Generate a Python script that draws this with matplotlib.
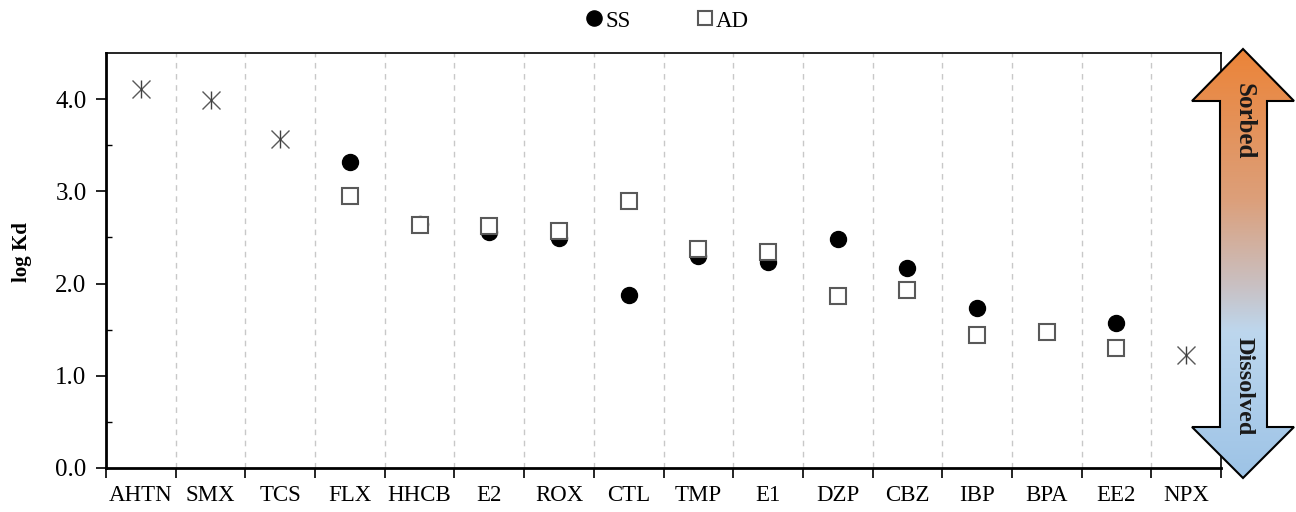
import numpy as np
import matplotlib.pyplot as plt
from matplotlib.patches import Polygon
from matplotlib.colors import LinearSegmentedColormap

plt.rcParams['font.family'] = ['Liberation Serif', 'DejaVu Serif']

# 数据
compounds = ['AHTN', 'SMX', 'TCS', 'FLX', 'HHCB', 'E2', 'ROX', 'CTL',
             'TMP', 'E1', 'DZP', 'CBZ', 'IBP', 'BPA', 'EE2', 'NPX']
ss = [np.nan, np.nan, np.nan, 3.32, 2.65, 2.56, 2.49, 1.88,
      2.30, 2.23, 2.48, 2.17, 1.74, np.nan, 1.57, np.nan]
ad = [np.nan, np.nan, np.nan, 2.95, 2.64, 2.62, 2.57, 2.89,
      2.37, 2.34, 1.86, 1.93, 1.44, 1.47, 1.30, np.nan]
other = [4.11, 3.99, 3.57, np.nan, np.nan, np.nan, np.nan, np.nan,
         np.nan, np.nan, np.nan, np.nan, np.nan, np.nan, np.nan, 1.22]

x = np.arange(len(compounds))

fig = plt.figure(figsize=(12.96, 5.12), dpi=100)
ax = fig.add_axes([106/1296, 44/512, 1115/1296, 415/512])

# 数据点
ax.plot(x, ss, linestyle='none', marker='o', markersize=11.5,
        color='black', label='SS', zorder=3)
ax.plot(x, ad, linestyle='none', marker='s', markersize=11,
        markerfacecolor='white', markeredgecolor='#595959',
        markeredgewidth=1.5, label='AD', zorder=4)
# 星号 = x + |
ax.plot(x, other, linestyle='none', marker='x', markersize=12.5,
        color='#595959', markeredgewidth=1.0, zorder=3)
ax.plot(x, other, linestyle='none', marker='|', markersize=13,
        color='#404040', markeredgewidth=1.0, zorder=3)

# 坐标范围和刻度
ax.set_xlim(-0.5, len(compounds) - 0.5)
ax.set_ylim(0, 4.5)
ax.set_xticks(np.arange(-0.5, len(compounds), 1))
ax.set_xticklabels([])
ax.set_xticks(x, minor=True)
ax.set_xticklabels(compounds, minor=True, fontsize=16.5)
ax.tick_params(axis='x', which='major', direction='out', length=7, width=1.2)
ax.tick_params(axis='x', which='minor', length=0, pad=12)
ax.set_yticks([0, 1, 2, 3, 4])
ax.set_yticklabels(['0.0', '1.0', '2.0', '3.0', '4.0'], fontsize=18)
ax.set_yticks(np.arange(0.5, 4.5, 1), minor=True)
ax.tick_params(axis='y', which='major', direction='out', length=7, width=1.2, pad=7)
ax.tick_params(axis='y', which='minor', direction='in', length=4, width=1.0)
ax.set_ylabel('log Kd', fontsize=15, fontweight='bold')
ax.yaxis.set_label_coords(-0.066, 0.52)

# 竖直虚线网格
ax.grid(axis='x', which='major', linestyle=(0, (4, 4)), color='#c8c8c8', linewidth=1)
ax.set_axisbelow(True)

ax.spines['left'].set_linewidth(2)
ax.spines['bottom'].set_linewidth(2)
ax.spines['top'].set_linewidth(1.2)
ax.spines['right'].set_linewidth(1.2)

# 图例
fig.legend(loc='center', bbox_to_anchor=(666/1296, 1 - 21/512), ncol=2,
           frameon=False, fontsize=16.5, handletextpad=0.0, columnspacing=2.7,
           handlelength=1.0, markerscale=0.95)

# 右侧渐变双向箭头
ov = fig.add_axes([0, 0, 1, 1], zorder=10)
ov.set_xlim(0, 1296)
ov.set_ylim(512, 0)
ov.axis('off')
ov.patch.set_alpha(0)

cmap = LinearSegmentedColormap.from_list('arr', [
    (0.0, '#EC8438'), (0.35, '#DC9F7A'), (0.55, '#C9C0C2'),
    (0.66, '#BDD7EE'), (1.0, '#9DC3E6')])
pts = [(1243, 49), (1294, 101), (1267, 101), (1267, 427), (1294, 427),
       (1243, 478), (1192, 427), (1220, 427), (1220, 101), (1192, 101)]
arrow = Polygon(pts, closed=True, facecolor='none', edgecolor='black', linewidth=1.5)
grad = np.linspace(0, 1, 256).reshape(-1, 1)
im = ov.imshow(grad, cmap=cmap, extent=(1192, 1294, 478, 49), aspect='auto')
ov.add_patch(arrow)
im.set_clip_path(arrow)
ov.set_xlim(0, 1296)
ov.set_ylim(512, 0)

ov.text(1244, 121, 'Sorbed', rotation=-90, ha='center', va='center',
        fontsize=18, fontweight='bold', color='#1a1a1a')
ov.text(1244, 386, 'Dissolved', rotation=-90, ha='center', va='center',
        fontsize=17.5, fontweight='bold', color='#1a1a1a')

fig.savefig('out.png', dpi=100)
